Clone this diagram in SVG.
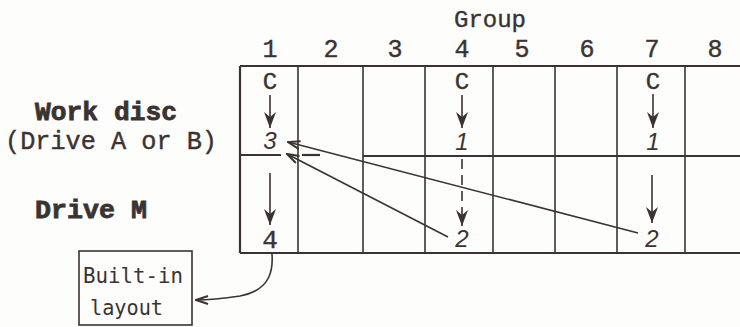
<svg xmlns="http://www.w3.org/2000/svg" width="740" height="327" viewBox="0 0 740 327">
<style>
.bg{fill:#fdfdfb}
.grid{stroke:#3a3331;stroke-width:2.2;fill:none}
.thin{stroke:#3a3331;stroke-width:1.6;fill:none}
.lbl{font-family:"Liberation Mono",monospace;fill:#3a3331;stroke:#3a3331;stroke-width:0.4}
.bold{font-weight:bold;stroke-width:0.8}
.it{font-family:"Liberation Sans",sans-serif;font-style:italic;fill:#3a3331}
.dm{font-family:"DejaVu Sans Mono",monospace;fill:#3a3331}
</style>
<defs>
<marker id="down" viewBox="0 0 16 12" refX="16" refY="6" markerWidth="16" markerHeight="12" markerUnits="userSpaceOnUse" orient="auto">
<path d="M0,0 L5,6 L0,12 L16,6 Z" fill="#3a3331"/>
</marker>
<marker id="open" viewBox="0 0 14 10" refX="13" refY="5" markerWidth="14" markerHeight="10" markerUnits="userSpaceOnUse" orient="auto">
<path d="M1,1 L13,5 L1,9" fill="none" stroke="#3a3331" stroke-width="2"/>
</marker>
</defs>
<rect class="bg" x="0" y="0" width="740" height="327"/>

<g id="header">
<text class="lbl" x="490" y="27" font-size="24" text-anchor="middle">Group</text>
<text class="lbl" font-size="25" y="57" text-anchor="middle">
<tspan x="270">1</tspan><tspan x="331">2</tspan><tspan x="395">3</tspan><tspan x="462">4</tspan><tspan x="522">5</tspan><tspan x="587">6</tspan><tspan x="652">7</tspan><tspan x="715">8</tspan>
</text>
</g>

<g id="row-labels">
<text class="lbl bold" x="35" y="120" font-size="26" textLength="142" lengthAdjust="spacingAndGlyphs">Work disc</text>
<text class="lbl" x="5" y="149" font-size="25" textLength="212" lengthAdjust="spacingAndGlyphs">(Drive A or B)</text>
<text class="lbl bold" x="35" y="218" font-size="26" textLength="112" lengthAdjust="spacingAndGlyphs">Drive M</text>
</g>

<g id="grid">
<line class="grid" x1="240" y1="66" x2="740" y2="66"/>
<line class="grid" x1="240" y1="253" x2="740" y2="253"/>
<line class="grid" x1="240" y1="155" x2="281" y2="155"/>
<line class="grid" x1="302" y1="155" x2="320" y2="155"/>
<line class="grid" x1="363" y1="156" x2="740" y2="156"/>
<line class="grid" x1="240" y1="66" x2="240" y2="253"/>
<line class="thin" x1="298" y1="66" x2="298" y2="253"/>
<line class="thin" x1="363" y1="66" x2="363" y2="253"/>
<line class="thin" x1="425" y1="66" x2="425" y2="253"/>
<line class="thin" x1="493" y1="66" x2="493" y2="253"/>
<line class="thin" x1="555" y1="66" x2="555" y2="253"/>
<line class="thin" x1="617" y1="66" x2="617" y2="253"/>
<line class="thin" x1="685" y1="66" x2="685" y2="253"/>
</g>

<g id="cell-1-top">
<text class="lbl" x="270" y="89" font-size="24" text-anchor="middle">C</text>
<text class="it" x="270" y="149" font-size="24" text-anchor="middle">3</text>
</g>
<g id="cell-4-top">
<text class="lbl" x="462" y="89" font-size="24" text-anchor="middle">C</text>
<text class="it" x="462" y="150" font-size="24" text-anchor="middle">1</text>
</g>
<g id="cell-7-top">
<text class="lbl" x="653" y="89" font-size="24" text-anchor="middle">C</text>
<text class="it" x="653" y="150" font-size="24" text-anchor="middle">1</text>
</g>
<g id="cell-1-bottom">
<text class="lbl" x="270" y="248" font-size="26" text-anchor="middle">4</text>
</g>
<g id="cell-4-bottom">
<text class="it" x="462" y="247" font-size="24" text-anchor="middle">2</text>
</g>
<g id="cell-7-bottom">
<text class="it" x="652" y="247" font-size="24" text-anchor="middle">2</text>
</g>

<g id="builtin-layout">
<rect class="thin" x="79" y="251" width="113" height="74"/>
<text class="dm" x="83" y="283" font-size="21" textLength="100" lengthAdjust="spacingAndGlyphs">Built-in</text>
<text class="dm" x="90" y="315" font-size="21" textLength="73" lengthAdjust="spacingAndGlyphs">layout</text>
</g>

<g id="connectors">
<line class="thin" x1="270" y1="95" x2="270" y2="128" stroke-width="2" marker-end="url(#down)"/>
<line class="thin" x1="462" y1="95" x2="462" y2="128" stroke-width="2" marker-end="url(#down)"/>
<line class="thin" x1="653" y1="94" x2="653" y2="128" marker-end="url(#down)"/>
<line class="thin" x1="270" y1="173" x2="270" y2="225" stroke-width="2" marker-end="url(#down)"/>
<line class="thin" x1="462" y1="159" x2="462" y2="226" stroke-width="2" stroke-dasharray="10 6" marker-end="url(#down)"/>
<line class="thin" x1="652" y1="175" x2="652" y2="223" stroke-width="2" marker-end="url(#down)"/>
<line class="thin" x1="448" y1="237" x2="287" y2="154" marker-end="url(#open)" stroke-width="1.4"/>
<line class="thin" x1="638" y1="233" x2="288" y2="142" marker-end="url(#open)" stroke-width="1.2"/>
<path class="thin" d="M272,254 C273,268 272,290 240,296 C220,299 208,300 196,300" marker-end="url(#open)" stroke-width="2"/>
</g>
</svg>
